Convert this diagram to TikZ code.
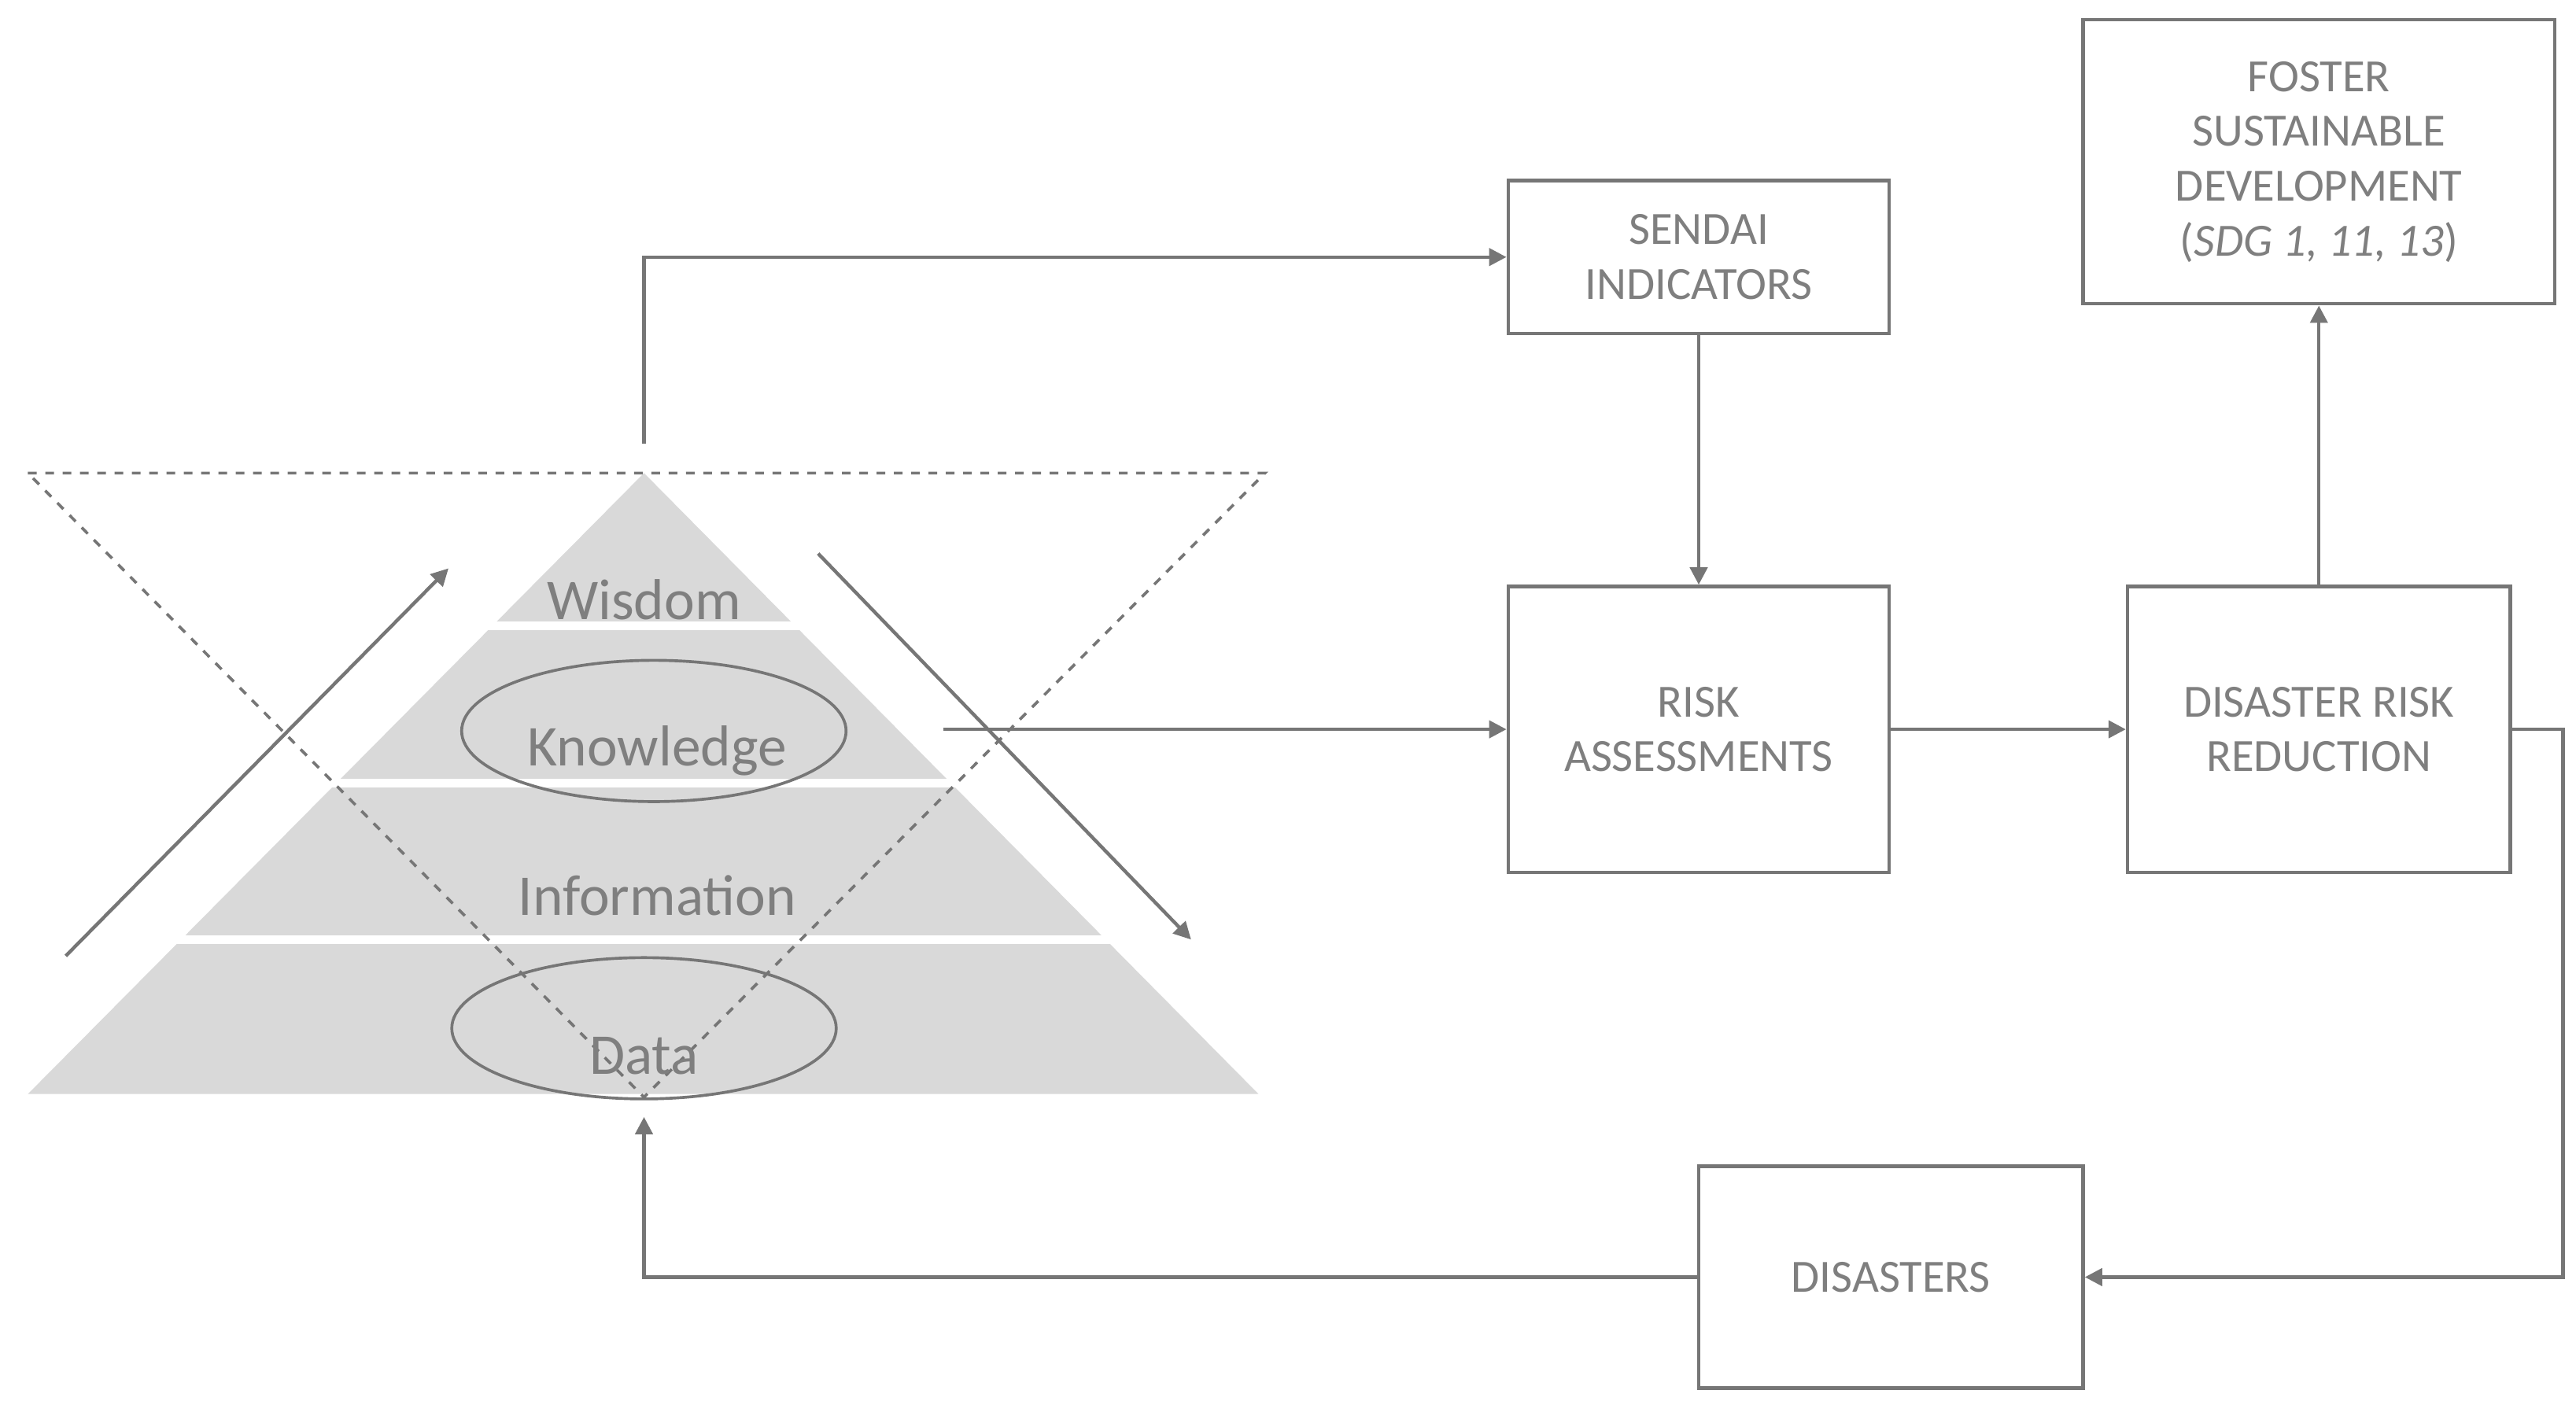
\documentclass[tikz,border=0pt]{standalone}
\usepackage{fontspec}
\setmainfont{Carlito}
\usetikzlibrary{arrows.meta}
\definecolor{ln}{HTML}{767676}
\definecolor{tx}{HTML}{7F7F7F}
\definecolor{pyr}{HTML}{D9D9D9}
\begin{document}
\begin{tikzpicture}[x=0.02cm,y=-0.02cm,
  con/.style={draw=ln,line width=1.2pt,-{Triangle[length=6pt,width=6pt]}},
  box/.style={draw=ln,line width=1.2pt,text=tx,font=\fontsize{16}{19}\selectfont,align=center,inner sep=0pt},
  lay/.style={text=tx,font=\fontsize{20}{24}\selectfont}]
\useasboundingbox (0,0) rectangle (1568,855);
% pyramid
\fill[pyr] (392,288) -- (766,666) -- (17,666) -- cycle;
\foreach \y in {381,477,572} \draw[white,line width=3pt] (0,\y) -- (780,\y);
\draw[ln,dashed,line width=1pt] (17,288) -- (770,288) -- (392,668) -- cycle;
\draw[ln,line width=1pt] (398,445) ellipse (117 and 43);
\draw[ln,line width=1pt] (392,626) ellipse (117 and 43);
\node[lay] (wis) at (392,365) {Wisdom};
\node[lay] (kno) at (400,457) {Knowledge};
\node[lay] (inf) at (400,545) {Information};
\node[lay] (dat) at (392,643) {Data};
\coordinate (l1) at (40,582); \coordinate (l2) at (273,346);
\coordinate (r1) at (498,337); \coordinate (r2) at (725,572);
\draw[con] (l1) -- (l2);
\draw[con] (r1) -- (r2);
% boxes
\node[box,minimum width=232*0.02cm,minimum height=93*0.02cm] (sen) at (1034,156.5) {SENDAI\\INDICATORS};
\node[box,minimum width=232*0.02cm,minimum height=174*0.02cm] (risk) at (1034,444) {RISK\\ASSESSMENTS};
\node[box,minimum width=233*0.02cm,minimum height=174*0.02cm] (drr) at (1411.5,444) {DISASTER RISK\\REDUCTION};
\node[box,minimum width=287*0.02cm,minimum height=173*0.02cm] (fos) at (1411.5,98.5) {FOSTER\\SUSTAINABLE\\DEVELOPMENT\\(\textit{SDG 1, 11, 13})};
\node[box,minimum width=234*0.02cm,minimum height=135*0.02cm] (dis) at (1151,777.5) {DISASTERS};
% connectors
\coordinate (top) at (392,270);
\coordinate (kout) at (574,444);
\coordinate (dtop) at (392,680);
\draw[con] (top) |- (sen.west);
\draw[con] (sen.south) -- (risk.north);
\draw[con] (kout) -- (risk.west);
\draw[con] (risk.east) -- (drr.west);
\draw[con] (drr.north) -- (fos.south);
\draw[con] (drr.east) -- (1560,444) |- (dis.east);
\draw[con] (dis.west) -| (dtop);
\end{tikzpicture}
\end{document}
